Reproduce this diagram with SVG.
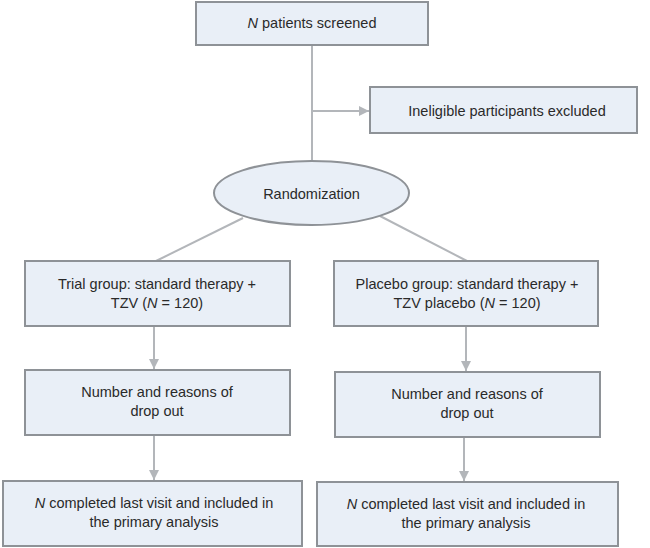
<svg xmlns="http://www.w3.org/2000/svg" width="650" height="548" viewBox="0 0 650 548">
<style>
.box{fill:#e9eff7;stroke:#8e9297;stroke-width:2}
.ln{stroke:#b3b6ba;stroke-width:2;fill:none}
text{font-family:"Liberation Sans",Arial,sans-serif;font-size:14.5px;fill:#2a2a2a;text-anchor:middle}
</style>
<defs>
<marker id="ah" viewBox="0 0 10 10" refX="10" refY="5" markerWidth="5" markerHeight="5" orient="auto" markerUnits="strokeWidth">
<path d="M0,0 L10,5 L0,10 z" fill="#b3b6ba"/>
</marker>
</defs>
<rect width="650" height="548" fill="#fff"/>
<g id="connectors">
<line class="ln" x1="312" y1="45" x2="312" y2="162"/>
<line class="ln" x1="312" y1="111" x2="369" y2="111" marker-end="url(#ah)"/>
<line class="ln" x1="243" y1="218" x2="156" y2="261"/>
<line class="ln" x1="380" y1="216" x2="467" y2="261"/>
<line class="ln" x1="154" y1="326" x2="154" y2="369" marker-end="url(#ah)"/>
<line class="ln" x1="466" y1="326" x2="466" y2="371" marker-end="url(#ah)"/>
<line class="ln" x1="154" y1="435" x2="154" y2="480" marker-end="url(#ah)"/>
<line class="ln" x1="464" y1="437" x2="464" y2="481" marker-end="url(#ah)"/>
</g>
<g id="screened">
<rect class="box" x="196" y="2" width="232" height="43"/>
<text x="312" y="28"><tspan font-style="italic">N</tspan> patients screened</text>
</g>
<g id="excluded">
<rect class="box" x="370" y="87" width="267" height="46"/>
<text x="507" y="116">Ineligible participants excluded</text>
</g>
<g id="randomization">
<ellipse class="box" cx="311.5" cy="193" rx="97.5" ry="32"/>
<text x="311.5" y="199">Randomization</text>
</g>
<g id="trial">
<rect class="box" x="25" y="261" width="265" height="65"/>
<text x="157" y="289">Trial group: standard therapy +</text>
<text x="157" y="308">TZV (<tspan font-style="italic">N</tspan> = 120)</text>
</g>
<g id="placebo">
<rect class="box" x="334" y="261" width="264" height="65"/>
<text x="467" y="289">Placebo group: standard therapy +</text>
<text x="467" y="308">TZV placebo (<tspan font-style="italic">N</tspan> = 120)</text>
</g>
<g id="dropout-trial">
<rect class="box" x="25" y="370" width="265" height="65"/>
<text x="157" y="397">Number and reasons of</text>
<text x="157" y="416">drop out</text>
</g>
<g id="dropout-placebo">
<rect class="box" x="335" y="372" width="265" height="65"/>
<text x="467" y="399">Number and reasons of</text>
<text x="467" y="418">drop out</text>
</g>
<g id="completed-trial">
<rect class="box" x="3" y="481" width="299" height="65"/>
<text x="154" y="508"><tspan font-style="italic">N</tspan> completed last visit and included in</text>
<text x="154" y="527">the primary analysis</text>
</g>
<g id="completed-placebo">
<rect class="box" x="317" y="482" width="301" height="64"/>
<text x="466" y="509"><tspan font-style="italic">N</tspan> completed last visit and included in</text>
<text x="466" y="528">the primary analysis</text>
</g>
</svg>
